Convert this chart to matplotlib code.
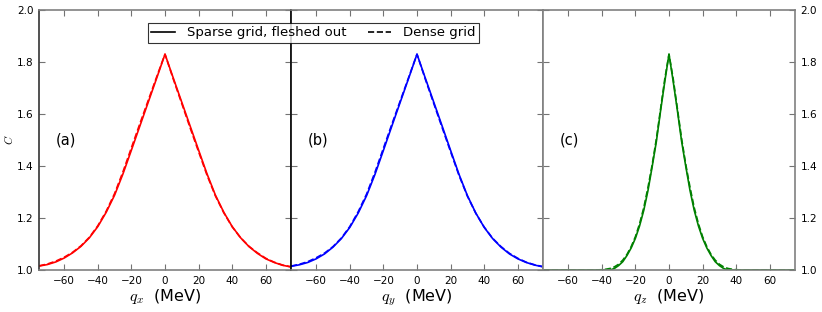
import numpy as np
import matplotlib
matplotlib.use("Agg")
import matplotlib.pyplot as plt
from matplotlib.lines import Line2D

plt.rcParams['mathtext.fontset'] = 'cm'

q = [-75, -70, -65, -60, -55, -50, -45, -40, -35, -30, -25, -20, -15, -10, -5, 0,
     5, 10, 15, 20, 25, 30, 35, 40, 45, 50, 55, 60, 65, 70, 75]

# (a) q_x
cx_sparse = [1.015, 1.021, 1.031, 1.046, 1.066, 1.091, 1.124, 1.167, 1.222, 1.288, 1.370, 1.461, 1.553, 1.645, 1.737, 1.83,
             1.737, 1.645, 1.553, 1.461, 1.370, 1.288, 1.222, 1.167, 1.124, 1.090, 1.064, 1.043, 1.029, 1.018, 1.012]
cx_dense = [1.016, 1.023, 1.034, 1.049, 1.068, 1.093, 1.126, 1.170, 1.226, 1.294, 1.378, 1.470, 1.562, 1.652, 1.742, 1.83,
            1.733, 1.640, 1.546, 1.455, 1.365, 1.285, 1.220, 1.166, 1.124, 1.091, 1.066, 1.045, 1.030, 1.019, 1.012]

# (b) q_y
cy_sparse = [1.014, 1.020, 1.029, 1.043, 1.062, 1.088, 1.121, 1.164, 1.219, 1.286, 1.368, 1.460, 1.553, 1.645, 1.737, 1.83,
             1.737, 1.645, 1.553, 1.460, 1.368, 1.286, 1.219, 1.164, 1.121, 1.088, 1.062, 1.043, 1.029, 1.019, 1.012]
cy_dense = [1.015, 1.022, 1.032, 1.047, 1.065, 1.090, 1.123, 1.167, 1.224, 1.292, 1.376, 1.468, 1.560, 1.650, 1.740, 1.83,
            1.733, 1.640, 1.547, 1.455, 1.364, 1.284, 1.218, 1.165, 1.122, 1.090, 1.064, 1.045, 1.030, 1.020, 1.013]

# (c) q_z, finer grid near the peak
qz = [-75, -60, -50, -45, -40, -37.5, -35, -32.5, -30, -27.5, -25, -22.5, -20, -17.5, -15, -12.5, -10, -7.5, -5, -2.5, 0,
      2.5, 5, 7.5, 10, 12.5, 15, 17.5, 20, 22.5, 25, 27.5, 30, 32.5, 35, 37.5, 40, 45, 50, 60, 75]
cz_sparse = [1.0, 1.0, 1.0, 1.0, 1.0, 1.0, 1.0, 1.006, 1.017, 1.032, 1.056, 1.085, 1.122, 1.170, 1.230, 1.306, 1.398, 1.495, 1.613, 1.725, 1.83,
             1.725, 1.613, 1.495, 1.398, 1.306, 1.230, 1.170, 1.122, 1.085, 1.056, 1.032, 1.017, 1.006, 1.0, 1.0, 1.0, 1.0, 1.0, 1.0, 1.0]
cz_dense = [1.0, 1.0, 1.0, 1.0, 1.001, 1.003, 1.006, 1.012, 1.022, 1.038, 1.060, 1.090, 1.128, 1.178, 1.240, 1.318, 1.405, 1.505, 1.620, 1.735, 1.83,
            1.735, 1.620, 1.505, 1.405, 1.318, 1.240, 1.178, 1.128, 1.090, 1.060, 1.038, 1.022, 1.012, 1.006, 1.003, 1.001, 1.0, 1.0, 1.0, 1.0]

panels = [
    (q, cx_sparse, cx_dense, 'red', '(a)', r'$q_x$  (MeV)'),
    (q, cy_sparse, cy_dense, 'blue', '(b)', r'$q_y$  (MeV)'),
    (qz, cz_sparse, cz_dense, 'green', '(c)', r'$q_z$  (MeV)'),
]
xticks = [-60, -40, -20, 0, 20, 40, 60]
yticks = [1.0, 1.2, 1.4, 1.6, 1.8, 2.0]

fig = plt.figure(figsize=(8.22, 3.12), dpi=100)
left, bottom, w, h = 39 / 822, 1 - 270 / 312, 252 / 822, 260 / 312
axes = []
for i, (xs, ys, yd, col, lab, xl) in enumerate(panels):
    ax = fig.add_axes([left + i * w, bottom, w, h])
    ax.plot(xs, ys, '-', color=col, lw=1.2)
    ax.plot(xs, yd, '--', color=col, lw=1.2)
    ax.set_xlim(-75, 75)
    ax.set_ylim(1.0, 2.0)
    ax.set_xticks(xticks)
    ax.set_yticks(yticks)
    ax.tick_params(direction='in', top=True, right=True, length=4, width=0.8,
                   color='0.45', labelsize=7.5, pad=4)
    ax.set_xlabel(xl, fontsize=11.5, labelpad=1)
    ax.text(-65, 1.5, lab, fontsize=10.5, va='center')
    for s in ax.spines.values():
        s.set_color('0.5')
        s.set_linewidth(1.2)
    axes.append(ax)

axes[0].set_ylabel('$C$', fontsize=8)
axes[0].yaxis.set_label_coords(-0.095, 0.5)
axes[0].spines['left'].set_color('0.2')
axes[1].tick_params(labelleft=False)
axes[1].spines['left'].set_color('black')
axes[2].tick_params(labelleft=False, labelright=True)

handles = [Line2D([], [], color='black', ls='-', lw=1.2),
           Line2D([], [], color='black', ls='--', lw=1.2)]
leg = fig.legend(handles, ['Sparse grid, fleshed out', 'Dense grid'], ncol=2,
                 loc='upper left', bbox_to_anchor=(148 / 822, 1 - 23 / 312),
                 fontsize=9.5, fancybox=False, borderpad=0.25, handlelength=1.8,
                 columnspacing=1.6, handletextpad=0.9, borderaxespad=0)
leg.get_frame().set_edgecolor('black')
leg.get_frame().set_linewidth(0.8)

fig.savefig('out.png', dpi=100)
